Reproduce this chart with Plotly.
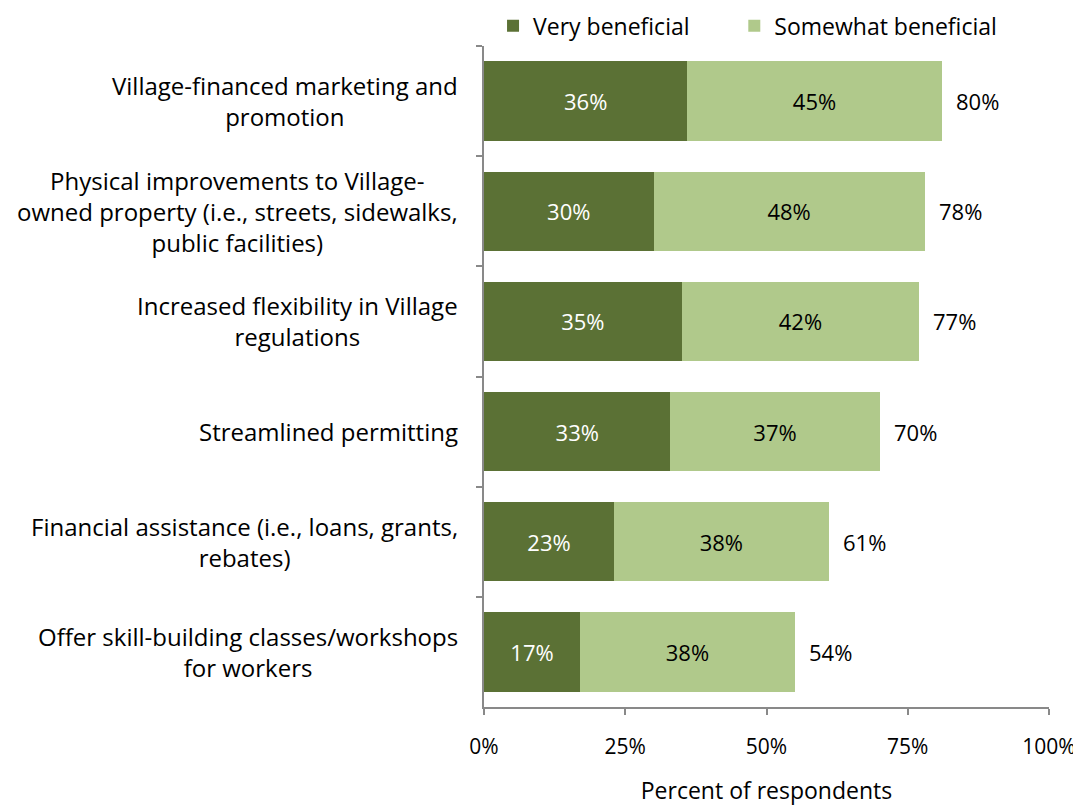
import plotly.graph_objects as go

categories = [
    "Village-financed marketing and<br>promotion",
    "Physical improvements to Village-<br>owned property (i.e., streets, sidewalks,<br>public facilities)",
    "Increased flexibility in Village<br>regulations",
    "Streamlined permitting",
    "Financial assistance (i.e., loans, grants,<br>rebates)",
    "Offer skill-building classes/workshops<br>for workers",
]
very = [36, 30, 35, 33, 23, 17]
somewhat = [45, 48, 42, 37, 38, 38]
total_labels = ["80%", "78%", "77%", "70%", "61%", "54%"]
x_ticks = [0, 25, 50, 75, 100]
x_tick_labels = ["0%", "25%", "50%", "75%", "100%"]

FONT = "Open Sans"
DARK = "#5B7135"
LIGHT = "#B0C98B"
AXIS = "#898989"

fig = go.Figure()
fig.add_trace(go.Bar(
    y=categories, x=very, orientation="h", name="Very beneficial", legend="legend",
    marker=dict(color=DARK, line=dict(width=0)),
    text=[f"{v}%" for v in very], textposition="inside", insidetextanchor="middle",
    textfont=dict(color="white", size=22, family=FONT),
))
fig.add_trace(go.Bar(
    y=categories, x=somewhat, orientation="h", name="Somewhat beneficial", legend="legend2",
    marker=dict(color=LIGHT, line=dict(width=0)),
    text=[f"{v}%" for v in somewhat], textposition="inside", insidetextanchor="middle",
    textfont=dict(color="black", size=22, family=FONT),
))

annotations = []
for c, v, s, t in zip(categories, very, somewhat, total_labels):
    annotations.append(dict(
        x=v + s, y=c, xref="x", yref="y", text=t, showarrow=False,
        xanchor="left", xshift=12, font=dict(size=22, color="black", family=FONT),
    ))
    annotations.append(dict(
        x=0, y=c, xref="paper", yref="y", text=c, showarrow=False,
        xanchor="right", xshift=-24, align="center",
        font=dict(size=24, color="black", family=FONT),
    ))

legend_common = dict(orientation="h", xref="paper", yref="paper", y=1.063,
                     yanchor="top", xanchor="left", font=dict(size=23, family=FONT),
                     itemwidth=30, bgcolor="rgba(0,0,0,0)")

fig.update_layout(
    barmode="stack",
    bargap=0.28,
    width=1073, height=798,
    margin=dict(l=476, r=32, t=38, b=99, autoexpand=False),
    paper_bgcolor="white", plot_bgcolor="white",
    font=dict(family=FONT, size=22, color="black"),
    showlegend=True,
    legend=dict(x=0.016, **legend_common),
    legend2=dict(x=0.443, **legend_common),
    annotations=annotations,
)
fig.update_xaxes(
    range=[0, 100], tickvals=x_ticks, ticktext=x_tick_labels, automargin=False,
    showgrid=False, zeroline=False, showline=True, linecolor=AXIS, linewidth=2,
    ticks="outside", tickcolor=AXIS, ticklen=6, tickwidth=2, ticklabelstandoff=14,
    tickfont=dict(size=21, family=FONT),
    title=dict(text="Percent of respondents", standoff=43, font=dict(size=23, family=FONT)),
)
fig.update_yaxes(
    autorange="reversed", showticklabels=False, showgrid=False, zeroline=False, automargin=False,
    showline=True, linecolor=AXIS, linewidth=2, ticks="outside", tickcolor=AXIS,
    ticklen=6, tickwidth=2, tickson="boundaries",
)
fig.write_html("out.html")
